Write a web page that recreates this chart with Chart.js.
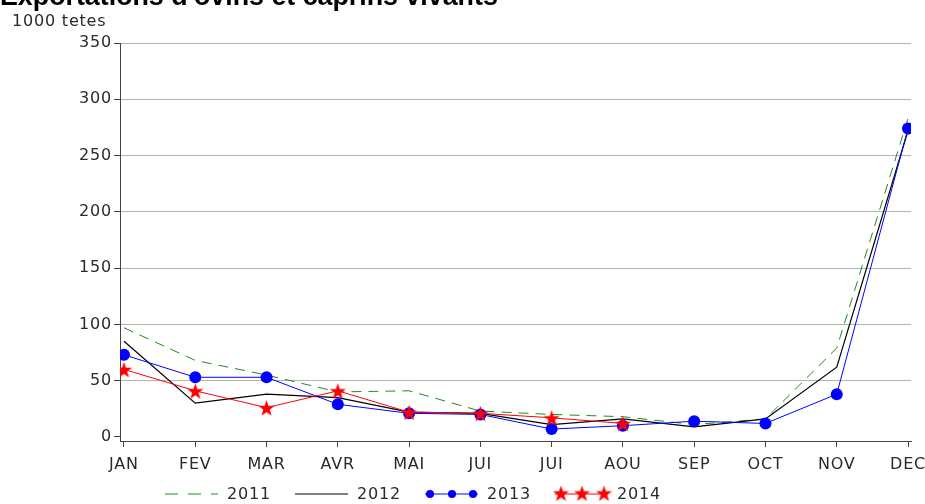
<!DOCTYPE html>
<html>
<head>
<meta charset="utf-8">
<title>Exportations d'ovins et caprins vivants</title>
<script src="https://cdn.jsdelivr.net/npm/chart.js@4.4.1/dist/chart.umd.min.js"></script>
<style>
  html, body { margin: 0; padding: 0; background: #fff; }
  #wrap { width: 925px; height: 504px; }
</style>
</head>
<body>
<div id="wrap"><canvas id="chart" width="925" height="504"></canvas></div>
<script>
const mois = ['JAN', 'FEV', 'MAR', 'AVR', 'MAI', 'JUI', 'JUI', 'AOU', 'SEP', 'OCT', 'NOV', 'DEC'];
const annees = ['2011', '2012', '2013', '2014'];
const y2011 = [97, 68, 55, 40, 41, 23, 20, 18, 11, 16, 79, 283];
const y2012 = [85, 30, 38, 35, 22, 21, 11, 16, 9, 16, 62, 272];
const y2013 = [73, 53, 53, 29, 21, 20, 7, 10, 14, 12, 38, 274];
const y2014 = [60, 41, 26, 41, 22, 21, 17, 12];
const yTicks = [0, 50, 100, 150, 200, 250, 300, 350];

const titre = "Exportations d'ovins et caprins vivants";
const unite = '1000 tetes';
const police = 'DejaVu Sans';
const graisse = '400';
const encre = '#2a2a2a';

// filled five-point star used as point marker
const makeStar = (r, color) => {
  const c = document.createElement('canvas');
  const s = Math.ceil(r * 2 + 2);
  c.width = s;
  c.height = s;
  const g = c.getContext('2d');
  g.fillStyle = color;
  g.beginPath();
  for (let i = 0; i < 10; i++) {
    const rad = i % 2 === 0 ? r : r * 0.4;
    const a = -Math.PI / 2 + i * Math.PI / 5;
    const px = s / 2 + rad * Math.cos(a);
    const py = s / 2 + 1 + rad * Math.sin(a);
    i === 0 ? g.moveTo(px, py) : g.lineTo(px, py);
  }
  g.closePath();
  g.fill();
  return c;
};
const star = makeStar(8.5, '#ff0000');

const toPoints = (vals) => vals.map((v, i) => ({ x: i, y: v }));

const datasets = [
  {
    label: annees[0],
    data: toPoints(y2011),
    borderColor: '#1f8a1f',
    borderWidth: 1,
    borderDash: [10, 7],
    pointRadius: 0,
    order: 4,
  },
  {
    label: annees[1],
    data: toPoints(y2012),
    borderColor: '#000000',
    borderWidth: 1.2,
    pointRadius: 0,
    order: 3,
  },
  {
    label: annees[2],
    data: toPoints(y2013),
    borderColor: '#0000ff',
    backgroundColor: '#0000ff',
    borderWidth: 1,
    pointRadius: 6,
    pointBorderWidth: 0,
    order: 2,
  },
  {
    label: annees[3],
    data: toPoints(y2014),
    borderColor: '#ff0000',
    backgroundColor: '#ff0000',
    borderWidth: 1,
    pointStyle: star,
    order: 1,
  },
];

// wider letter spacing for all chart text
const espacement = {
  id: 'espacement',
  beforeDraw(chart) {
    chart.ctx.letterSpacing = '0.8px';
  },
};

// title, unit label and the bottom legend with line samples
const decor = {
  id: 'decor',
  afterDraw(chart) {
    const ctx = chart.ctx;
    const area = chart.chartArea;
    ctx.save();

    ctx.letterSpacing = '0px';
    ctx.fillStyle = '#000';
    ctx.font = 'bold 100px "Liberation Sans"';
    const w100 = ctx.measureText(titre).width;
    ctx.font = 'bold ' + (497 / w100 * 100).toFixed(1) + 'px "Liberation Sans"';
    ctx.textAlign = 'left';
    ctx.textBaseline = 'alphabetic';
    ctx.fillText(titre, 0, 5);

    ctx.letterSpacing = '0.8px';
    ctx.fillStyle = encre;
    ctx.font = graisse + ' 16px "' + police + '"';
    ctx.textBaseline = 'middle';
    ctx.fillText(unite, 12, 22);

    const ly = 494;
    datasets.forEach((ds, i) => {
      const x0 = area.left + 45 + i * 130;
      ctx.strokeStyle = ds.borderColor;
      ctx.lineWidth = ds.borderWidth;
      ctx.setLineDash(i === 0 ? [13, 10] : []);
      ctx.beginPath();
      ctx.moveTo(x0, ly);
      ctx.lineTo(x0 + 53, ly);
      ctx.stroke();
      ctx.setLineDash([]);
      if (i === 2) {
        ctx.fillStyle = ds.backgroundColor;
        [5, 27, 48].forEach((dx) => {
          ctx.beginPath();
          ctx.arc(x0 + dx, ly, 4, 0, Math.PI * 2);
          ctx.fill();
        });
      }
      if (i === 3) {
        [6, 27, 49].forEach((dx) => {
          ctx.drawImage(star, x0 + dx - star.width / 2, ly - star.height / 2 - 1);
        });
      }
      ctx.fillStyle = encre;
      ctx.textAlign = 'left';
      ctx.fillText(ds.label, x0 + 62, ly + 1);
    });
    ctx.restore();
  },
};

new Chart(document.getElementById('chart'), {
  type: 'line',
  data: { datasets },
  options: {
    responsive: false,
    animation: false,
    events: [],
    layout: { padding: { top: 43, right: 14, left: 0, bottom: 0 } },
    plugins: { legend: { display: false }, tooltip: { enabled: false } },
    elements: { line: { tension: 0 } },
    scales: {
      x: {
        type: 'linear',
        min: -0.056,
        max: 11.042,
        afterBuildTicks: (scale) => {
          scale.ticks = mois.map((_, i) => ({ value: i }));
        },
        afterFit: (scale) => {
          scale.height = 63;
          scale.paddingLeft = 0;
          scale.paddingRight = 0;
        },
        grid: {
          drawOnChartArea: false,
          drawTicks: true,
          tickLength: 6,
          tickColor: '#444',
        },
        border: { color: '#444', width: 1 },
        ticks: {
          color: encre,
          padding: 8,
          maxRotation: 0,
          autoSkip: false,
          font: { family: police, size: 16, weight: graisse },
          callback: (v) => mois[v],
        },
      },
      y: {
        min: -3.6,
        max: 350,
        afterBuildTicks: (scale) => {
          scale.ticks = yTicks.map((v) => ({ value: v }));
        },
        afterFit: (scale) => {
          scale.width = 120;
        },
        grid: {
          color: (c) => (c.tick && c.tick.value === 0 ? 'rgba(0,0,0,0)' : '#b4b4b4'),
          lineWidth: 1,
          tickLength: 6,
          tickColor: '#444',
        },
        border: { color: '#444', width: 1 },
        ticks: {
          color: encre,
          padding: 2,
          font: { family: police, size: 16, weight: graisse },
        },
      },
    },
  },
  plugins: [espacement, decor],
});
</script>
</body>
</html>
